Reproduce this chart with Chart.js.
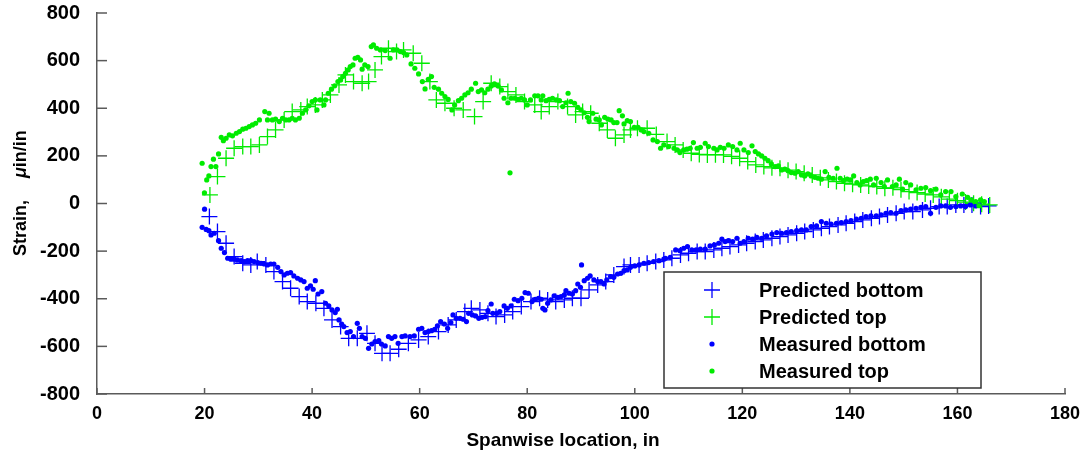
<!DOCTYPE html>
<html>
<head>
<meta charset="utf-8">
<script src="https://cdn.jsdelivr.net/npm/chart.js@4.4.0/dist/chart.umd.min.js"></script>
<style>
  html, body { margin: 0; padding: 0; background: #fff; }
  #wrap { width: 1081px; height: 458px; }
</style>
</head>
<body>
<div id="wrap"><canvas id="chart" width="1081" height="458"></canvas></div>
<script>
// ================================================================== Data
const xTicks = [0, 20, 40, 60, 80, 100, 120, 140, 160, 180];
const yTicks = [-800, -600, -400, -200, 0, 200, 400, 600, 800];
const seriesNames = ['Predicted bottom', 'Predicted top', 'Measured bottom', 'Measured top'];

const predBottomX = [20.9, 22.4, 24.0, 25.5, 27.1, 28.6, 29.8, 31.4, 32.9, 34.5, 36.0, 37.6, 39.1, 40.7, 42.2, 43.7, 45.3, 46.8, 48.4, 50.2,
    51.7, 53.0, 54.5, 56.1, 57.9, 59.8, 61.6, 63.5, 65.3, 66.8, 68.4, 69.6, 71.2, 72.7, 74.2, 75.8, 77.3, 78.9, 80.7, 82.3,
    83.8, 85.3, 86.9, 88.4, 90.0, 91.5, 93.1, 94.6, 96.1, 98.0, 99.2, 100.8, 102.3, 103.9, 105.4, 106.9, 108.5, 110.0, 111.6, 113.1,
    114.7, 116.2, 117.7, 119.3, 120.8, 122.4, 123.9, 125.5, 127.0, 128.5, 130.1, 131.6, 133.2, 134.7, 136.2, 137.8, 139.3, 140.9, 142.4, 144.0,
    145.5, 147.0, 148.6, 150.1, 151.7, 153.5, 155.0, 156.6, 158.1, 159.7, 161.2, 162.7, 164.3, 165.8];
const predBottomY = [-55, -118, -167, -223, -251, -258, -244, -258, -286, -328, -356, -391, -412, -419, -440, -489, -517, -566, -566, -545,
    -587, -629, -629, -612, -587, -573, -559, -538, -510, -489, -454, -440, -447, -461, -475, -468, -454, -433, -412, -398,
    -405, -412, -405, -398, -398, -363, -342, -328, -300, -265, -258, -258, -251, -244, -237, -230, -216, -209, -202, -202,
    -195, -188, -181, -174, -167, -160, -153, -146, -139, -132, -125, -118, -111, -104, -97, -90, -83, -76, -69, -62,
    -55, -48, -41, -34, -34, -27, -20, -13, -13, -6, -6, -6, -13, -10];

const predTopX = [21.0, 22.4, 24.0, 25.5, 27.1, 28.6, 30.2, 31.7, 33.2, 34.8, 36.3, 37.9, 39.1, 40.6, 41.9, 43.4, 45.0, 46.2, 47.7, 49.3,
    50.5, 51.7, 52.9, 54.2, 55.7, 57.0, 58.8, 60.4, 61.9, 63.1, 64.7, 66.4, 68.1, 70.2, 71.8, 73.3, 74.9, 76.4, 77.9, 79.5,
    81.4, 82.6, 84.1, 85.7, 87.5, 89.0, 90.3, 91.8, 93.4, 94.9, 96.4, 98.0, 99.2, 100.5, 102.3, 104.0, 106.0, 107.5, 109.0, 110.5,
    112.0, 113.5, 115.0, 116.5, 118.0, 119.5, 121.0, 122.5, 124.0, 125.5, 127.0, 128.5, 130.0, 131.5, 133.0, 134.5, 136.0, 137.5, 139.0, 140.5,
    142.0, 143.5, 145.0, 146.5, 148.0, 149.5, 151.0, 152.5, 154.0, 155.5, 157.0, 158.5, 160.0, 161.5, 163.0, 164.5, 166.0];
const predTopY = [36, 113, 190, 232, 239, 239, 246, 281, 309, 351, 386, 393, 407, 414, 435, 456, 498, 540, 512, 505,
    512, 561, 617, 652, 638, 645, 631, 589, 512, 435, 421, 400, 393, 365, 428, 505, 491, 470, 456, 428,
    414, 386, 407, 428, 407, 372, 386, 379, 337, 309, 274, 288, 309, 316, 316, 290, 260, 246, 225, 211,
    206, 204, 205, 204, 198, 190, 176, 162, 155, 150, 148, 140, 134, 127, 120, 108, 99, 92, 85, 81,
    78, 74, 71, 64, 66, 58, 50, 46, 40, 36, 28, 18, 12, 6, 1, -3, -6];

const measBottomX = [19.55, 20.0, 20.3, 20.8, 21.2, 21.8, 22.6, 23.1, 23.7, 24.3, 24.9, 25.5, 26.1, 26.8, 27.4, 28.0, 28.6, 29.2, 29.9, 30.5,
    31.1, 31.7, 32.3, 32.9, 33.6, 34.2, 34.8, 35.4, 36.0, 36.6, 37.3, 37.9, 38.5, 39.1, 39.7, 40.2, 40.6, 41.1, 41.8, 42.5,
    43.1, 43.7, 44.3, 44.7, 45.0, 45.5, 45.9, 46.5, 47.1, 47.7, 48.4, 48.8, 49.3, 49.9, 50.5, 51.1, 51.7, 52.4, 52.9, 53.6,
    54.2, 54.8, 55.4, 56.0, 56.7, 57.3, 58.2, 59.0, 59.8, 60.4, 61.0, 61.6, 62.2, 62.8, 63.3, 63.9, 64.6, 65.2, 65.8, 66.2,
    66.8, 67.5, 68.1, 68.7, 69.1, 69.8, 70.4, 71.0, 71.6, 72.2, 72.7, 73.3, 73.6, 74.3, 74.9, 75.7, 76.3, 77.0, 77.6, 78.3,
    79.0, 79.6, 80.2, 80.9, 81.5, 82.1, 82.6, 82.9, 83.3, 83.8, 84.4, 85.0, 85.7, 86.3, 86.9, 87.2, 87.8, 88.4, 89.0, 89.4,
    89.9, 90.1, 90.6, 91.2, 91.7, 92.4, 93.1, 93.7, 94.3, 94.8, 95.5, 96.1, 96.8, 97.4, 98.0, 98.6, 99.2, 100.0, 100.8, 101.7,
    102.6, 103.5, 104.5, 105.4, 105.7, 106.6, 107.6, 108.4, 109.1, 109.8, 110.6, 111.4, 112.2, 113.1, 114.0, 114.8, 115.6, 116.2, 116.8, 117.4,
    118.2, 119.0, 119.6, 120.3, 121.1, 121.9, 122.7, 123.6, 124.5, 125.5, 126.4, 127.3, 128.2, 129.1, 130.1, 131.0, 131.9, 132.8, 133.8, 134.7,
    135.6, 136.5, 137.5, 138.4, 139.3, 140.2, 141.2, 142.1, 143.0, 143.9, 144.9, 145.8, 146.7, 147.6, 148.6, 149.5, 150.4, 151.3, 152.3, 153.2,
    154.1, 155.0, 156.0, 156.9, 157.8, 158.7, 159.7, 160.6, 161.5, 162.4, 163.4, 164.0];
const measBottomY = [-100, -24, -109, -114, -132, -125, -156, -188, -206, -230, -234, -234, -237, -240, -244, -240, -240, -244, -248, -251,
    -254, -258, -254, -254, -268, -286, -300, -293, -290, -304, -314, -321, -328, -356, -346, -360, -324, -380, -370, -419,
    -430, -447, -458, -444, -489, -506, -517, -542, -538, -559, -503, -524, -559, -566, -608, -590, -580, -576, -590, -598,
    -559, -566, -559, -587, -559, -556, -559, -556, -528, -524, -542, -538, -534, -528, -514, -496, -506, -524, -500, -468,
    -482, -482, -486, -496, -461, -468, -472, -482, -478, -475, -450, -422, -461, -461, -454, -430, -440, -430, -402, -408,
    -398, -374, -377, -412, -402, -398, -402, -440, -447, -419, -405, -388, -394, -391, -384, -366, -377, -380, -366, -338,
    -352, -258, -324, -314, -304, -321, -328, -328, -338, -321, -307, -310, -296, -293, -282, -279, -268, -262, -258, -251,
    -248, -244, -240, -234, -230, -226, -195, -198, -188, -181, -195, -195, -192, -192, -178, -174, -167, -150, -160, -156,
    -160, -146, -167, -160, -146, -150, -142, -146, -136, -128, -122, -125, -122, -118, -114, -111, -111, -97, -94, -76,
    -83, -86, -83, -80, -76, -72, -66, -62, -55, -52, -52, -48, -41, -38, -41, -30, -27, -24, -20, -16,
    -13, -41, -16, -10, -10, -16, -13, -10, -13, -6, -10, -6];

const measTopX = [19.55, 19.98, 20.4, 20.8, 21.2, 21.65, 22.1, 22.6, 23.1, 23.5, 24.0, 24.6, 25.2, 25.9, 26.5, 27.1, 27.7, 28.3, 28.9, 29.5,
    30.2, 31.2, 31.7, 32.0, 32.6, 33.2, 33.9, 34.5, 35.1, 35.7, 36.3, 36.9, 37.6, 38.2, 38.8, 39.4, 40.0, 40.6, 40.9, 41.5,
    42.2, 42.5, 43.0, 43.6, 44.2, 44.8, 45.3, 45.7, 46.2, 46.7, 47.1, 47.6, 48.0, 48.5, 49.0, 49.3, 49.8, 50.4, 51.0, 51.4,
    52.0, 52.7, 53.6, 54.5, 55.1, 55.8, 56.4, 57.0, 57.6, 58.4, 59.1, 59.8, 60.5, 61.0, 61.6, 62.2, 62.7, 63.5, 64.1, 64.7,
    65.3, 66.0, 66.5, 67.2, 67.8, 68.4, 69.0, 69.6, 70.4, 70.9, 71.5, 72.1, 72.7, 73.3, 73.9, 74.6, 75.2, 75.7, 76.4, 76.8,
    77.0, 77.7, 78.3, 78.9, 79.5, 80.0, 80.6, 81.4, 82.0, 82.6, 82.9, 83.5, 84.1, 84.7, 85.4, 86.0, 86.6, 87.2, 87.6, 88.1,
    88.8, 89.4, 90.0, 90.6, 91.2, 91.5, 92.2, 92.8, 93.4, 93.8, 94.4, 95.0, 95.6, 96.1, 96.7, 97.1, 97.7, 98.0, 98.6, 99.2,
    99.9, 100.6, 101.2, 101.7, 102.6, 103.4, 104.2, 104.8, 105.4, 106.3, 107.3, 107.9, 108.4, 109.1, 109.7, 110.3, 110.9, 111.6, 112.2, 113.1,
    113.7, 114.7, 115.3, 115.9, 116.6, 117.4, 118.2, 119.0, 119.6, 120.3, 121.1, 121.8, 122.4, 123.0, 123.6, 124.2, 124.8, 125.4, 126.1, 126.7,
    127.3, 127.9, 128.5, 129.1, 129.8, 130.4, 131.0, 131.6, 132.2, 132.8, 133.5, 134.1, 134.7, 135.4, 136.1, 136.9, 137.6, 138.2, 138.8, 139.5,
    140.1, 140.7, 141.3, 141.9, 142.5, 143.1, 143.8, 144.4, 144.9, 145.8, 146.4, 147.0, 147.9, 148.6, 149.2, 149.8, 150.4, 151.3, 152.3, 153.2,
    154.1, 155.0, 156.0, 156.9, 157.8, 158.8, 159.7, 160.9, 161.9, 162.5, 163.4, 164.0, 164.3, 165.0];
const measTopY = [169, 45, 99, 116, 155, 186, 155, 208, 278, 264, 274, 288, 284, 295, 302, 312, 316, 323, 330, 337,
    351, 386, 351, 379, 351, 354, 344, 358, 351, 351, 358, 351, 358, 379, 393, 410, 428, 435, 393, 435,
    414, 435, 463, 480, 494, 512, 519, 533, 547, 561, 575, 582, 610, 614, 603, 564, 582, 575, 659, 666,
    652, 645, 642, 610, 645, 645, 638, 634, 624, 586, 568, 544, 512, 481, 521, 533, 488, 480, 463, 449,
    437, 393, 414, 432, 442, 456, 465, 480, 505, 470, 477, 465, 480, 493, 502, 493, 477, 442, 423, 129,
    442, 442, 437, 442, 435, 414, 435, 452, 452, 435, 452, 432, 437, 442, 435, 432, 407, 423, 463, 428,
    421, 404, 393, 381, 362, 344, 379, 354, 351, 330, 362, 354, 351, 340, 340, 390, 368, 334, 348, 344,
    320, 320, 309, 302, 295, 267, 260, 232, 246, 239, 232, 225, 214, 225, 228, 232, 256, 232, 236, 253,
    239, 232, 225, 236, 232, 246, 239, 225, 253, 225, 214, 242, 218, 208, 200, 190, 180, 166, 155, 158,
    141, 144, 138, 130, 127, 134, 120, 116, 124, 116, 110, 106, 102, 134, 110, 106, 148, 106, 96, 102,
    99, 116, 88, 78, 92, 96, 102, 78, 106, 88, 71, 99, 71, 78, 102, 60, 88, 78, 57, 64,
    67, 54, 60, 36, 50, 50, 29, 40, 26, 15, 8, -9, 15, 8];

// ================================================================== Style
const blue = 'rgb(0, 0, 255)';
const green = 'rgb(0, 235, 0)';
const axisColor = '#5a5a5a';
const fontFamily = '"Liberation Sans", Arial, sans-serif';

function toPoints(xs, ys) {
    return xs.map((x, i) => ({ x: x, y: ys[i] }));
}

// ================================================================== Plugin (inward ticks, titles, legend)
const overlay = {
    id: 'overlay',
    afterDraw(chart) {
        let ctx = chart.ctx;
        let area = chart.chartArea;
        let sx = chart.scales.x;
        let sy = chart.scales.y;
        ctx.save();
        ctx.strokeStyle = axisColor;
        ctx.lineWidth = 1.5;
        yTicks.forEach(v => {
            let py = sy.getPixelForValue(v);
            ctx.beginPath();
            ctx.moveTo(area.left, py);
            ctx.lineTo(area.left + 10, py);
            ctx.stroke();
        });
        xTicks.forEach(v => {
            let px = sx.getPixelForValue(v);
            ctx.beginPath();
            ctx.moveTo(px, area.bottom);
            ctx.lineTo(px, area.bottom - 6);
            ctx.stroke();
        });

        // x title
        ctx.fillStyle = '#000';
        ctx.font = 'bold 19px ' + fontFamily;
        ctx.textAlign = 'center';
        ctx.textBaseline = 'middle';
        ctx.fillText('Spanwise location, in', 563, 441);

        // y title, with italic mu
        ctx.translate(21, 0);
        ctx.rotate(-Math.PI / 2);
        ctx.textAlign = 'left';
        let startY = -256;
        ctx.font = 'bold 18px ' + fontFamily;
        ctx.fillText('Strain,', startY, 0);
        let w1 = ctx.measureText('Strain,').width;
        let muX = startY + w1 + 22;
        ctx.font = 'italic bold 18px ' + fontFamily;
        ctx.fillText('\u03bc', muX, 0);
        let w2 = ctx.measureText('\u03bc').width;
        ctx.font = 'bold 18px ' + fontFamily;
        ctx.fillText('in/in', muX + w2, 0);
        ctx.setTransform(1, 0, 0, 1, 0, 0);

        // legend
        let box = { left: 664, top: 272, right: 981, bottom: 388 };
        ctx.fillStyle = '#fff';
        ctx.fillRect(box.left, box.top, box.right - box.left, box.bottom - box.top);
        ctx.strokeStyle = '#333';
        ctx.lineWidth = 1.5;
        ctx.strokeRect(box.left, box.top, box.right - box.left, box.bottom - box.top);
        let rowY = [290, 317, 344, 371];
        chart.data.datasets.forEach((ds, i) => {
            let y = rowY[i];
            let mx = 712;
            if (ds.pointStyle === 'cross') {
                ctx.strokeStyle = ds.borderColor;
                ctx.lineWidth = 1.3;
                ctx.beginPath();
                ctx.moveTo(mx - 8, y);
                ctx.lineTo(mx + 8, y);
                ctx.moveTo(mx, y - 8);
                ctx.lineTo(mx, y + 8);
                ctx.stroke();
            } else {
                ctx.fillStyle = ds.backgroundColor;
                ctx.beginPath();
                ctx.arc(mx, y, 2.6, 0, Math.PI * 2);
                ctx.fill();
            }
            ctx.fillStyle = '#000';
            ctx.font = 'bold 20px ' + fontFamily;
            ctx.textAlign = 'left';
            ctx.textBaseline = 'middle';
            ctx.fillText(ds.label, 759, y + 1);
        });
        ctx.restore();
    }
};

// ================================================================== Chart
function crossSet(label, xs, ys, color, order) {
    return {
        label: label,
        data: toPoints(xs, ys),
        pointStyle: 'cross',
        pointRadius: 8,
        borderColor: color,
        backgroundColor: color,
        borderWidth: 1.3,
        order: order
    };
}

function dotSet(label, xs, ys, color, order) {
    return {
        label: label,
        data: toPoints(xs, ys),
        pointStyle: 'circle',
        pointRadius: 2.6,
        borderWidth: 0,
        borderColor: color,
        backgroundColor: color,
        order: order
    };
}

function fitX(s) {
    s.height = 64;
    s.paddingLeft = 0;
    s.paddingRight = 0;
}

function fitY(s) {
    s.width = 97;
    s.paddingTop = 0;
    s.paddingBottom = 0;
}

new Chart(document.getElementById('chart'), {
    type: 'scatter',
    data: {
        datasets: [
            crossSet(seriesNames[0], predBottomX, predBottomY, blue, 3),
            crossSet(seriesNames[1], predTopX, predTopY, green, 2),
            dotSet(seriesNames[2], measBottomX, measBottomY, blue, 1),
            dotSet(seriesNames[3], measTopX, measTopY, green, 0)
        ]
    },
    options: {
        responsive: false,
        animation: false,
        devicePixelRatio: 1,
        layout: { padding: { left: 0, top: 13, right: 16, bottom: 0 } },
        plugins: {
            legend: { display: false },
            tooltip: { enabled: false }
        },
        scales: {
            x: {
                type: 'linear',
                min: 0,
                max: 180,
                afterFit: fitX,
                afterBuildTicks: s => { s.ticks = xTicks.map(v => ({ value: v })); },
                ticks: {
                    color: '#000',
                    padding: 9,
                    maxRotation: 0,
                    font: { family: fontFamily, size: 18, weight: 'bold' }
                },
                grid: { display: true, drawOnChartArea: false, drawTicks: false, tickLength: 0 },
                border: { display: true, color: axisColor, width: 1.5 }
            },
            y: {
                type: 'linear',
                min: -800,
                max: 800,
                afterFit: fitY,
                afterBuildTicks: s => { s.ticks = yTicks.map(v => ({ value: v })); },
                ticks: {
                    color: '#000',
                    padding: 17,
                    font: { family: fontFamily, size: 20, weight: 'bold' }
                },
                grid: { display: true, drawOnChartArea: false, drawTicks: false, tickLength: 0 },
                border: { display: true, color: axisColor, width: 1.5 }
            }
        }
    },
    plugins: [overlay]
});
</script>
</body>
</html>
